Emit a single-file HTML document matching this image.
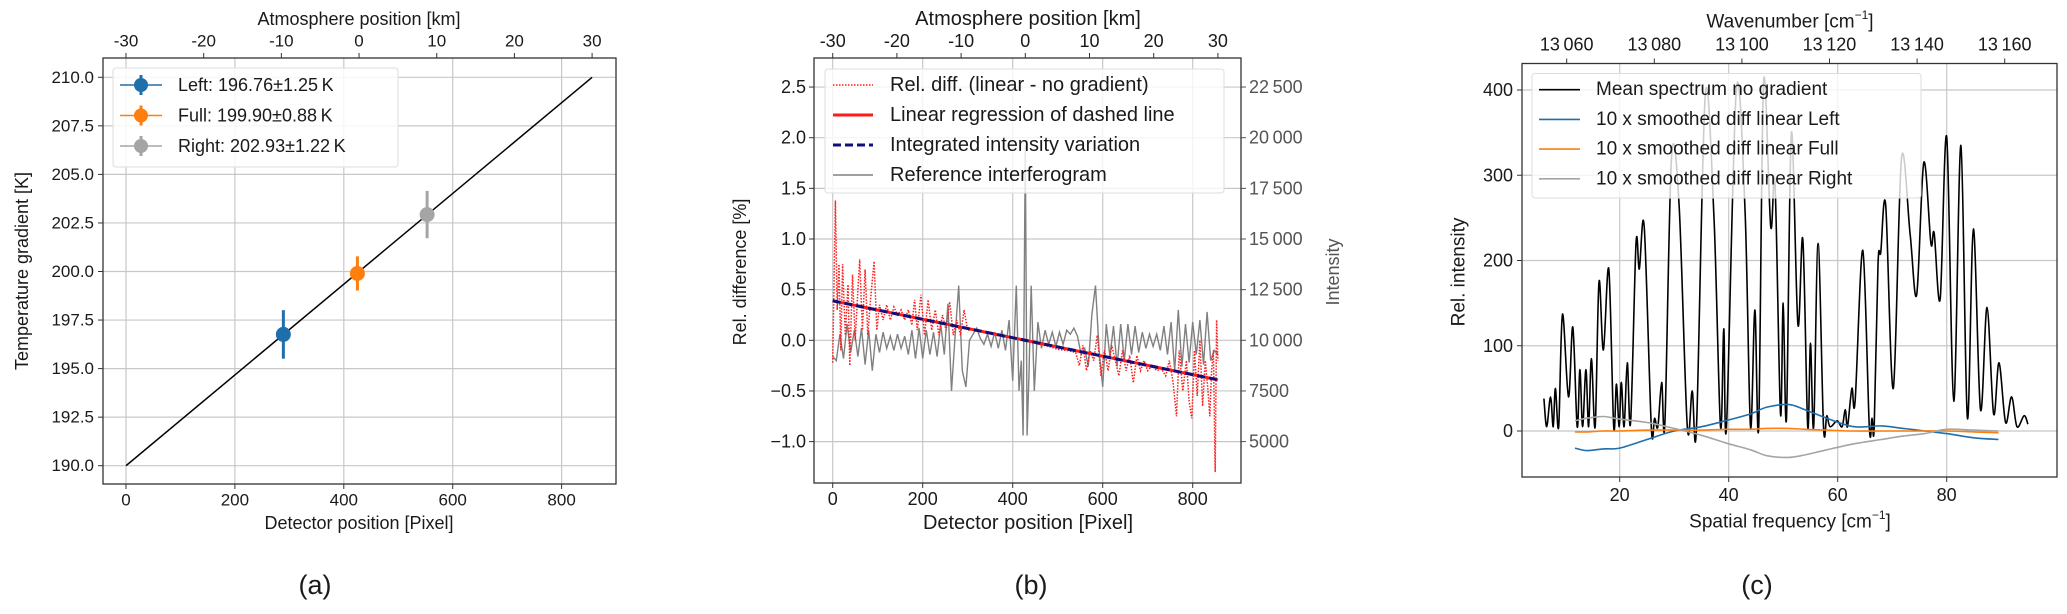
<!DOCTYPE html>
<html><head><meta charset="utf-8"><style>
html,body{margin:0;padding:0;background:#fff;}
svg{display:block;font-family:"Liberation Sans","DejaVu Sans",sans-serif;}
.nar{font-family:"Liberation Sans Narrow","Liberation Sans",sans-serif;}
</style></head><body>
<svg id="fig" width="2067" height="614" viewBox="0 0 2067 614" xmlns="http://www.w3.org/2000/svg"></svg>
<script>
// ---------- Panel (a) data ----------
const aLabels = ["Left: 196.76±1.25\u2009K","Full: 199.90±0.88\u2009K","Right: 202.93±1.22\u2009K"];
const aPix = [289, 425, 553];
const aTemp = [196.76, 199.90, 202.93];
const aErr = [1.25, 0.88, 1.22];
const aLinePix = [0, 856];
const aLineTemp = [190, 210];
const aYTicks = [190.0,192.5,195.0,197.5,200.0,202.5,205.0,207.5,210.0];
const aXTicks = [0,200,400,600,800];
const kmTicks = [-30,-20,-10,0,10,20,30];

// ---------- Panel (b) data ----------
const bRefPix = [0,8,16,24,32,40,48,56,64,72,80,88,96,104,112,120,128,136,144,152,160,168,176,184,192,200,208,216,224,232,240,248,256,264,272,280,288,296,304,312,320,328,336,344,352,360,368,376,384,392,400,408,414,419,423,428,432,436,441,448,456,464,472,480,488,496,504,512,520,528,536,544,552,560,568,576,584,592,600,608,616,624,632,640,648,656,664,672,680,688,696,704,712,720,728,736,744,752,760,768,776,784,792,800,808,816,824,832,840,848,856];
const bRefInt = [9200,9000,10300,9100,10800,9400,10500,9200,10600,8800,10500,8500,10300,9400,10400,9600,10200,9500,10300,9600,10200,9300,10500,9100,10600,9100,10500,9300,10400,9200,10800,9300,11800,7500,10200,12700,8500,7700,10000,10300,10600,10100,9800,10300,9700,10400,9600,10500,9500,11000,8000,12700,7500,9000,5300,19600,5300,8200,12700,7500,10900,9600,10500,9800,10400,9700,10400,9800,10500,10300,10600,10200,9300,9600,8700,11300,12700,9500,7700,10800,9200,10700,8700,10800,9000,10800,9300,10700,9400,10400,9600,10300,9700,10300,9500,10700,9300,10900,8500,11500,8700,10800,8900,10900,9300,11000,8800,11400,9000,9500,9300];
const bDiffPix = [0,6,10,14,18,22,28,34,38,44,50,56,60,66,72,78,84,92,98,104,112,120,128,136,144,152,160,168,176,182,188,196,204,212,220,228,236,244,252,260,268,276,284,292,300,320,340,360,380,400,420,440,460,480,500,520,540,548,556,564,572,580,588,596,604,612,620,628,636,644,652,660,668,676,684,692,700,710,720,730,740,748,756,764,770,778,786,792,798,804,810,816,822,828,834,838,842,846,850,853,856];
const bDiffVal = [-0.22,1.38,0.3,0.75,-0.1,0.75,0.05,0.55,-0.25,0.65,0.0,0.5,0.8,0.1,0.7,0.05,0.4,0.78,0.1,0.35,0.2,0.35,0.2,0.33,0.25,0.3,0.2,0.3,0.15,0.4,0.1,0.45,0.05,0.4,0.1,0.3,0.05,0.25,0.1,0.38,0.05,0.2,0.05,0.3,0.1,0.11,0.08,0.07,0.03,0.03,0.01,-0.02,-0.04,-0.06,-0.09,-0.1,-0.12,-0.25,-0.05,-0.3,-0.1,-0.2,0.05,-0.35,-0.1,-0.3,-0.05,-0.2,-0.35,-0.1,-0.3,-0.15,-0.42,-0.15,-0.3,-0.2,-0.3,-0.25,-0.3,-0.28,-0.35,-0.2,-0.4,-0.75,-0.1,-0.5,-0.2,-0.6,-0.77,-0.1,-0.55,0.0,-0.65,-0.2,-0.5,-0.75,-0.3,-0.1,-1.3,0.2,-0.2];
const bRegPix = [0, 856];
const bRegVal = [0.39, -0.39];
const bLegend = ["Rel. diff. (linear - no gradient)","Linear regression of dashed line","Integrated intensity variation","Reference interferogram"];
const bYTicks = [-1.0,-0.5,0.0,0.5,1.0,1.5,2.0,2.5];
const bYTickLabels = ["\u22121.0","\u22120.5","0.0","0.5","1.0","1.5","2.0","2.5"];
const bRTicks = [5000,7500,10000,12500,15000,17500,20000,22500];
const bRTickLabels = ["5000","7500","10\u2009000","12\u2009500","15\u2009000","17\u2009500","20\u2009000","22\u2009500"];

// ---------- Panel (c) data ----------
const cSf = [6.1,6.6,7.3,7.8,8.2,8.8,9.5,10.6,11.4,12.2,12.7,13.2,13.8,14.3,14.8,15.5,16.2,17,18,18.9,19.4,19.9,20.3,20.8,21.4,22,23,23.6,24.5,25.8,26.4,27,27.7,28.3,29.5,30.9,32.4,33.3,34.1,35.7,37.3,38.5,39.1,39.6,41.4,43,44,44.8,45.5,46.4,47.7,48.5,49.5,50,50.6,51.5,52.7,53.6,54.5,55,55.6,56.4,57.4,58,58.6,59.9,60.8,61.4,61.8,62.6,63.2,64.6,65.8,66.3,66.7,67.4,67.9,68.8,70.2,71.7,73.3,74.5,75.8,77.1,77.7,78.8,80,81.3,82.6,83.8,84.9,86.2,87.4,88.6,89.6,90.8,91.9,92.9,94.2,94.9];
const cMean = [38,5,40,5,50,5,137,40,122,5,72,5,72,5,85,5,175,95,190,5,55,5,57,5,80,10,220,190,240,5,15,5,57,10,320,265,5,47,5,395,250,5,120,5,400,260,5,142,5,410,240,290,20,150,15,350,125,225,5,103,5,220,5,18,5,12,5,25,5,50,35,212,5,15,5,195,210,265,50,320,230,160,315,220,232,155,345,35,335,15,237,25,145,20,80,10,40,5,18,8];
const cDiffSf = [11.8,14,17,20,25,30,35,40,44,47,51,54,58,63,68,72,76,80,85,89.5];
const cLeft = [-20,-23,-21,-20,-10,0,5,13,20,28,31,25,15,5,6,3,0,-3,-8,-10];
const cFull = [-1,-1,0,0,1,1,1,2,2,3,3,2,1,0,0,0,0,0,-1,-2];
const cRight = [12,15,17,14,10,3,-5,-15,-22,-29,-31,-28,-22,-15,-10,-6,-3,2,1,0];
const cYTicks = [0,100,200,300,400];
const cXTicks = [20,40,60,80];
const cWnTicks = [13060,13080,13100,13120,13140,13160];
const cWnLabels = ["13\u2009060","13\u2009080","13\u2009100","13\u2009120","13\u2009140","13\u2009160"];
const cLegend = ["Mean spectrum no gradient","10 x smoothed diff linear Left","10 x smoothed diff linear Full","10 x smoothed diff linear Right"];

const NS = "http://www.w3.org/2000/svg";
const svg = document.getElementById("fig");
function el(tag, attrs, parent) {
  const e = document.createElementNS(NS, tag);
  for (const k in attrs) e.setAttribute(k, attrs[k]);
  (parent || svg).appendChild(e);
  return e;
}
function group(name) {
  const g = el("g", {});
  
  
  return g;
}
function txt(g, x, y, s, size, anchor, extra) {
  const t = el("text", Object.assign({x: x, y: y, "font-size": size, "text-anchor": anchor || "middle", "dominant-baseline": "central", fill: "#1a1a1a"}, extra || {}), g);
  t.textContent = s;
  return t;
}
function polyD(xs, ys) {
  let d = "";
  for (let i = 0; i < xs.length; i++) d += (i ? "L" : "M") + xs[i].toFixed(1) + "," + ys[i].toFixed(1);
  return d;
}
function smoothD(xs, ys) {
  let d = "M" + xs[0].toFixed(1) + "," + ys[0].toFixed(1);
  for (let i = 0; i < xs.length - 1; i++) {
    const x0 = xs[Math.max(0, i - 1)], y0 = ys[Math.max(0, i - 1)];
    const x1 = xs[i], y1 = ys[i], x2 = xs[i + 1], y2 = ys[i + 1];
    const x3 = xs[Math.min(xs.length - 1, i + 2)], y3 = ys[Math.min(xs.length - 1, i + 2)];
    const c1x = x1 + (x2 - x0) / 6, c1y = y1 + (y2 - y0) / 6;
    const c2x = x2 - (x3 - x1) / 6, c2y = y2 - (y3 - y1) / 6;
    d += "C" + c1x.toFixed(1) + "," + c1y.toFixed(1) + " " + c2x.toFixed(1) + "," + c2y.toFixed(1) + " " + x2.toFixed(1) + "," + y2.toFixed(1);
  }
  return d;
}
el("rect", {x: 0, y: 0, width: 2067, height: 614, fill: "#fff"});

// ================= Panel (a) =================
(function () {
  const L = 103, R = 616, T = 58, B = 484;
  const xA = p => 126 + p * 0.5445;
  const yA = v => 77.3 + (210 - v) * 19.42;
  const kmX = k => xA((k + 30) / 60 * 856);
  const g = group("panel-a");
  const grid = group("panel-a-grid"); g.appendChild(grid);
  aXTicks.forEach(v => el("line", {x1: xA(v), x2: xA(v), y1: T, y2: B, stroke: "#c8c8c8", "stroke-width": 1.2}, grid));
  aYTicks.forEach(v => el("line", {x1: L, x2: R, y1: yA(v), y2: yA(v), stroke: "#c8c8c8", "stroke-width": 1.2}, grid));
  const xt = group("panel-a-x-ticks"); g.appendChild(xt);
  aXTicks.forEach(v => { el("line", {x1: xA(v), x2: xA(v), y1: B, y2: B + 5, stroke: "#333"}, xt); txt(xt, xA(v), B + 16, String(v), 17); });
  const yt = group("panel-a-y-ticks"); g.appendChild(yt);
  aYTicks.forEach(v => { el("line", {x1: L - 5, x2: L, y1: yA(v), y2: yA(v), stroke: "#333"}, yt); txt(yt, L - 9, yA(v), v.toFixed(1), 17, "end"); });
  const tt = group("panel-a-top-ticks"); g.appendChild(tt);
  kmTicks.forEach(k => { el("line", {x1: kmX(k), x2: kmX(k), y1: T - 5, y2: T, stroke: "#333"}, tt); txt(tt, kmX(k), T - 17, String(k), 17); });
  const fl = el("path", {d: polyD(aLinePix.map(xA), aLineTemp.map(yA)), stroke: "#000", "stroke-width": 1.5, fill: "none"}, g);
  
  
  const cols = ["#1f6fad", "#ff7f0e", "#a5a5a5"];
  const names = ["left", "full", "right"];
  aPix.forEach((p, i) => {
    const pg = group("point-" + names[i]); g.appendChild(pg);
    el("line", {x1: xA(p), x2: xA(p), y1: yA(aTemp[i] + aErr[i]), y2: yA(aTemp[i] - aErr[i]), stroke: cols[i], "stroke-width": 3}, pg);
    el("circle", {cx: xA(p), cy: yA(aTemp[i]), r: 7.5, fill: cols[i]}, pg);
  });
  el("rect", {x: L, y: T, width: R - L, height: B - T, fill: "none", stroke: "#333", "stroke-width": 1.3}, g);
  const lg = group("panel-a-legend"); g.appendChild(lg);
  el("rect", {x: 113, y: 68, width: 285, height: 99, rx: 3, fill: "#fff", "fill-opacity": 0.85, stroke: "#ddd"}, lg);
  aLabels.forEach((s, i) => {
    const y = 85 + i * 30.5;
    const e = group("legend-entry-" + names[i]); lg.appendChild(e);
    el("line", {x1: 120, x2: 162, y1: y, y2: y, stroke: cols[i], "stroke-width": 1.5}, e);
    el("line", {x1: 141, x2: 141, y1: y - 10, y2: y + 10, stroke: cols[i], "stroke-width": 3}, e);
    el("circle", {cx: 141, cy: y, r: 7, fill: cols[i]}, e);
    txt(e, 178, y, s, 18, "start");
  });
  const xl = txt(g, 359, 523, "Detector position [Pixel]", 18);
  
  
  const tl = txt(g, 359, 19, "Atmosphere position [km]", 18);
  
  
  const yl = txt(g, 0, 0, "Temperature gradient [K]", 18, "middle", {transform: "translate(22,271) rotate(-90)"});
  
  
  const cap = txt(g, 315, 585, "(a)", 27);
  
  
})();

// ================= Panel (b) =================
(function () {
  const L = 814, R = 1241, T = 58, B = 483;
  const xB = p => 832.7 + p * 0.45;
  const yB = v => 340.3 - v * 101.3;
  const yI = v => yB((v - 10000) / 5000);
  const kmX = k => xB((k + 30) / 60 * 856);
  const g = group("panel-b");
  const grid = group("panel-b-grid"); g.appendChild(grid);
  aXTicks.forEach(v => el("line", {x1: xB(v), x2: xB(v), y1: T, y2: B, stroke: "#c8c8c8", "stroke-width": 1.2}, grid));
  bYTicks.forEach(v => el("line", {x1: L, x2: R, y1: yB(v), y2: yB(v), stroke: "#c8c8c8", "stroke-width": 1.2}, grid));
  const xt = group("panel-b-x-ticks"); g.appendChild(xt);
  aXTicks.forEach(v => { el("line", {x1: xB(v), x2: xB(v), y1: B, y2: B + 5, stroke: "#333"}, xt); txt(xt, xB(v), B + 16, String(v), 18, "middle", {class: "nar"}); });
  const yt = group("panel-b-y-ticks"); g.appendChild(yt);
  bYTicks.forEach((v, i) => { el("line", {x1: L - 5, x2: L, y1: yB(v), y2: yB(v), stroke: "#333"}, yt); txt(yt, L - 8, yB(v), bYTickLabels[i], 18, "end", {class: "nar"}); });
  const rt = group("panel-b-right-ticks"); g.appendChild(rt);
  bRTicks.forEach((v, i) => { el("line", {x1: R, x2: R + 5, y1: yI(v), y2: yI(v), stroke: "#555"}, rt); txt(rt, R + 8, yI(v), bRTickLabels[i], 18, "start", {class: "nar", fill: "#555"}); });
  const tt = group("panel-b-top-ticks"); g.appendChild(tt);
  kmTicks.forEach(k => { el("line", {x1: kmX(k), x2: kmX(k), y1: T - 5, y2: T, stroke: "#333"}, tt); txt(tt, kmX(k), T - 17, String(k), 18, "middle", {class: "nar"}); });
  const ref = el("path", {d: polyD(bRefPix.map(xB), bRefInt.map(yI)), stroke: "#808080", "stroke-width": 1.4, fill: "none"}, g);
  
  
  const rd = el("path", {d: polyD(bDiffPix.map(xB), bDiffVal.map(yB)), stroke: "#ff1a1a", "stroke-width": 1.5, "stroke-dasharray": "1.5 1.5", fill: "none"}, g);
  
  
  const reg = el("path", {d: polyD(bRegPix.map(xB), bRegVal.map(yB)), stroke: "#ff1a1a", "stroke-width": 3, fill: "none"}, g);
  
  
  const ii = el("path", {d: polyD(bRegPix.map(xB), bRegVal.map(yB)), stroke: "#10107a", "stroke-width": 3, "stroke-dasharray": "8 4", fill: "none"}, g);
  
  
  el("rect", {x: L, y: T, width: R - L, height: B - T, fill: "none", stroke: "#333", "stroke-width": 1.3}, g);
  const lg = group("panel-b-legend"); g.appendChild(lg);
  el("rect", {x: 825, y: 69, width: 399, height: 124, rx: 3, fill: "#fff", "fill-opacity": 0.8, stroke: "#ddd"}, lg);
  const st = [{stroke: "#ff1a1a", "stroke-width": 1.5, "stroke-dasharray": "1.5 1.5"}, {stroke: "#ff1a1a", "stroke-width": 3}, {stroke: "#10107a", "stroke-width": 3, "stroke-dasharray": "8 4"}, {stroke: "#808080", "stroke-width": 1.4}];
  bLegend.forEach((s, i) => {
    const y = 85 + i * 30;
    const e = group("legend-entry-" + (i + 1)); lg.appendChild(e);
    el("line", Object.assign({x1: 833, x2: 873, y1: y, y2: y}, st[i]), e);
    txt(e, 890, y, s, 20, "start", {class: "nar"});
  });
  const xl = txt(g, 1028, 523, "Detector position [Pixel]", 20, "middle", {class: "nar"});
  
  
  const tl = txt(g, 1028, 19, "Atmosphere position [km]", 20, "middle", {class: "nar"});
  
  
  const yl = txt(g, 0, 0, "Rel. difference [%]", 18, "middle", {transform: "translate(740,272) rotate(-90)"});
  
  
  const yr = txt(g, 0, 0, "Intensity", 18, "middle", {transform: "translate(1333,272) rotate(-90)", fill: "#555"});
  
  
  const cap = txt(g, 1031, 585, "(b)", 27);
  
  
})();

// ================= Panel (c) =================
(function () {
  const L = 1522, R = 2057, T = 63.5, B = 477;
  const xC = v => 1510.7 + v * 5.45;
  const yC = v => 431 - v * 0.8525;
  const wnX = w => 1566.7 + (w - 13060) * 4.38;
  const g = group("panel-c");
  const grid = group("panel-c-grid"); g.appendChild(grid);
  cXTicks.forEach(v => el("line", {x1: xC(v), x2: xC(v), y1: T, y2: B, stroke: "#c8c8c8", "stroke-width": 1.2}, grid));
  cYTicks.forEach(v => el("line", {x1: L, x2: R, y1: yC(v), y2: yC(v), stroke: "#c8c8c8", "stroke-width": 1.2}, grid));
  const xt = group("panel-c-x-ticks"); g.appendChild(xt);
  cXTicks.forEach(v => { el("line", {x1: xC(v), x2: xC(v), y1: B, y2: B + 5, stroke: "#333"}, xt); txt(xt, xC(v), B + 18, String(v), 18); });
  const yt = group("panel-c-y-ticks"); g.appendChild(yt);
  cYTicks.forEach(v => { el("line", {x1: L - 5, x2: L, y1: yC(v), y2: yC(v), stroke: "#333"}, yt); txt(yt, L - 9, yC(v), String(v), 18, "end"); });
  const tt = group("panel-c-top-ticks"); g.appendChild(tt);
  cWnTicks.forEach((w, i) => { el("line", {x1: wnX(w), x2: wnX(w), y1: T - 5, y2: T, stroke: "#333"}, tt); txt(tt, wnX(w), T - 19, cWnLabels[i], 18); });
  const m = el("path", {d: smoothD(cSf.map(xC), cMean.map(yC)), stroke: "#000", "stroke-width": 1.6, fill: "none"}, g);
  
  
  const lf = el("path", {d: smoothD(cDiffSf.map(xC), cLeft.map(yC)), stroke: "#1f6fad", "stroke-width": 1.6, fill: "none"}, g);
  
  
  const fu = el("path", {d: smoothD(cDiffSf.map(xC), cFull.map(yC)), stroke: "#ff7f0e", "stroke-width": 1.6, fill: "none"}, g);
  
  
  const ri = el("path", {d: smoothD(cDiffSf.map(xC), cRight.map(yC)), stroke: "#a5a5a5", "stroke-width": 1.6, fill: "none"}, g);
  
  
  el("rect", {x: L, y: T, width: R - L, height: B - T, fill: "none", stroke: "#333", "stroke-width": 1.3}, g);
  const lg = group("panel-c-legend"); g.appendChild(lg);
  el("rect", {x: 1532, y: 73.5, width: 389, height: 124.5, rx: 3, fill: "#fff", "fill-opacity": 0.8, stroke: "#ddd"}, lg);
  const cc = ["#000", "#1f6fad", "#ff7f0e", "#a5a5a5"];
  cLegend.forEach((s, i) => {
    const y = 89.7 + i * 29.7;
    const e = group("legend-entry-c" + (i + 1)); lg.appendChild(e);
    el("line", {x1: 1539, x2: 1580, y1: y, y2: y, stroke: cc[i], "stroke-width": 1.6}, e);
    txt(e, 1596, y, s, 19, "start");
  });
  const xl = el("text", {x: 1790, y: 522, "font-size": 19, "text-anchor": "middle", "dominant-baseline": "central", fill: "#1a1a1a"}, g);
  xl.innerHTML = 'Spatial frequency [cm<tspan baseline-shift="super" font-size="12">\u22121</tspan>]';
  
  
  const tl = el("text", {x: 1790, y: 22, "font-size": 19, "text-anchor": "middle", "dominant-baseline": "central", fill: "#1a1a1a"}, g);
  tl.innerHTML = 'Wavenumber [cm<tspan baseline-shift="super" font-size="12">\u22121</tspan>]';
  
  
  const yl = txt(g, 0, 0, "Rel. intensity", 19, "middle", {transform: "translate(1459,272) rotate(-90)"});
  
  
  const cap = txt(g, 1757, 585, "(c)", 27);
  
  
})();
</script>
</body></html>
